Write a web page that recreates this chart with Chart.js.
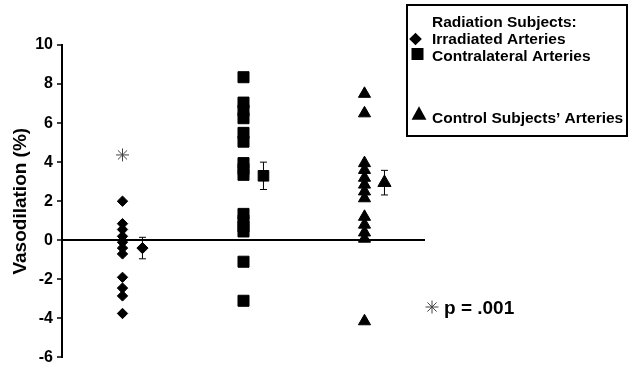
<!DOCTYPE html>
<html>
<head>
<meta charset="utf-8">
<script src="https://cdn.jsdelivr.net/npm/chart.js@4/dist/chart.umd.min.js"></script>
<style>
  html, body { margin: 0; padding: 0; background: #fff; }
  #wrap { width: 630px; height: 371px; position: relative; }
</style>
</head>
<body>
<div id="wrap"><canvas id="vasoChart"></canvas></div>
<script>
// values (% vasodilation)
const groups = ['Irradiated Arteries', 'Contralateral Arteries', 'Control Subjects\u2019 Arteries'];
const legendHeading = 'Radiation Subjects:';
const irradiated = [2.0, 0.85, 0.55, 0.2, -0.1, -0.4, -0.7, -1.9, -2.45, -2.85, -3.75];
const contralateral = [8.35, 7.05, 6.65, 6.25, 5.5, 5.05, 3.95, 3.65, 3.35, 1.35, 1.0, 0.7, 0.45, -1.1, -3.1];
const control = [7.5, 6.5, 3.95, 3.6, 3.2, 2.85, 2.5, 2.15, 1.2, 0.8, 0.4, 0.08, -4.15];
const groupMeans = [-0.4, 3.3, 2.95];
const groupSE = [0.55, 0.7, 0.63];
const significant = [4.37];      // asterisk above irradiated group
const pValueLabel = 'p = .001';
const yTickValues = [-6, -4, -2, 0, 2, 4, 6, 8, 10];

const FONT = 'Arial, "Liberation Sans", sans-serif';
const groupX = i => 1 + i * 2;   // x scale runs 0..6, groups sit at 1,3,5
const meanOffset = 0.33;
const shapes = ['rectRot', 'rect', 'triangle'];
const pointSizes = [5.2, 7.8, 7];
const meanSizes = [5.6, 7.5, 7.6];

function pts(values, i, off) {
    return values.map(v => ({x: groupX(i) + (off || 0), y: v}));
}

const datasets = [irradiated, contralateral, control].map((vals, i) => {
    return {
        label: groups[i],
        data: pts(vals, i),
        pointStyle: shapes[i],
        pointRadius: pointSizes[i],
        backgroundColor: '#000',
        borderColor: '#000',
        borderWidth: 1
    }
});
groupMeans.forEach((m, i) => {
    datasets.push({
        label: groups[i] + ' mean',
        data: [{x: groupX(i) + meanOffset, y: m}],
        pointStyle: shapes[i],
        pointRadius: meanSizes[i],
        backgroundColor: '#000',
        borderColor: '#000',
        borderWidth: 1
    });
});
datasets.push({
    label: 'significance',
    data: pts(significant, 0),
    pointStyle: 'star',
    pointRadius: 6.5,
    borderColor: '#444',
    backgroundColor: '#444',
    borderWidth: 1
});

function marker(ctx, style, x, y, r) {
    ctx.beginPath();
    if (style === 'rectRot') {
        ctx.moveTo(x - r, y); ctx.lineTo(x, y - r); ctx.lineTo(x + r, y); ctx.lineTo(x, y + r);
    } else if (style === 'rect') {
        ctx.rect(x - r, y - r, 2 * r, 2 * r);
    } else {
        ctx.moveTo(x, y - r); ctx.lineTo(x + r * 0.95, y + r * 0.75); ctx.lineTo(x - r * 0.95, y + r * 0.75);
    }
    ctx.closePath();
    ctx.fill();
}

function asterisk(ctx, x, y, r) {
    ctx.beginPath();
    for (let k = 0; k < 4; k++) {
        const a = k * Math.PI / 4;
        ctx.moveTo(x - Math.cos(a) * r, y - Math.sin(a) * r);
        ctx.lineTo(x + Math.cos(a) * r, y + Math.sin(a) * r);
    }
    ctx.stroke();
}

const annotations = {
    id: 'annotations',
    beforeDatasetsDraw(chart) {
        // standard error bars behind the group means
        const ctx = chart.ctx, xs = chart.scales.x, ys = chart.scales.y;
        ctx.save();
        ctx.strokeStyle = '#000';
        ctx.lineWidth = 1;
        groupMeans.forEach((m, i) => {
            const x = xs.getPixelForValue(groupX(i) + meanOffset);
            const top = ys.getPixelForValue(m + groupSE[i]);
            const bot = ys.getPixelForValue(m - groupSE[i]);
            ctx.beginPath();
            ctx.moveTo(x, top); ctx.lineTo(x, bot);
            ctx.moveTo(x - 3.5, top); ctx.lineTo(x + 3.5, top);
            ctx.moveTo(x - 3.5, bot); ctx.lineTo(x + 3.5, bot);
            ctx.stroke();
        });
        ctx.restore();
    },
    afterDraw(chart) {
        const ctx = chart.ctx;
        ctx.save();
        // key box
        ctx.strokeStyle = '#000';
        ctx.lineWidth = 2;
        ctx.strokeRect(407, 5, 220, 131);
        ctx.fillStyle = '#000';
        ctx.font = 'bold 15.5px ' + FONT;
        ctx.textBaseline = 'alphabetic';
        ctx.fillText(legendHeading, 432, 27);
        ctx.fillText(groups[0], 432, 44);
        ctx.fillText(groups[1], 432, 61);
        ctx.fillText(groups[2], 432, 123);
        marker(ctx, 'rectRot', 415.5, 39, 6.3);
        marker(ctx, 'rect', 417.5, 54, 6);
        marker(ctx, 'triangle', 419, 114, 7.8);
        // p value note
        ctx.strokeStyle = '#444';
        ctx.lineWidth = 1;
        asterisk(ctx, 432, 307, 6.5);
        ctx.font = 'bold 19px ' + FONT;
        ctx.fillText(pValueLabel, 444, 314);
        ctx.restore();
    }
};

const config = {
    type: 'scatter',
    data: {datasets: datasets},
    options: {
        responsive: true,
        maintainAspectRatio: false,
        animation: false,
        events: [],
        layout: {padding: {top: 45, bottom: 11, left: 0, right: 205}},
        scales: {
            x: {
                type: 'linear',
                min: 0,
                max: 6,
                display: false
            },
            y: {
                min: -6,
                max: 10,
                afterBuildTicks: function(scale) {
                    scale.ticks = yTickValues.map(v => ({value: v}));
                },
                afterFit: function(scale) {
                    scale.width = 62;
                },
                border: {display: true, color: '#000', width: 2},
                grid: {
                    color: c => (c.tick && c.tick.value === 0) ? '#000' : 'rgba(0,0,0,0)',
                    lineWidth: 2,
                    tickColor: '#000',
                    tickWidth: 1.5,
                    tickLength: 5
                },
                ticks: {
                    color: '#000',
                    padding: 4,
                    font: {family: FONT, size: 16, weight: 'bold'}
                },
                title: {
                    display: true,
                    text: 'Vasodilation (%)',
                    color: '#000',
                    padding: {top: 9, bottom: 0},
                    font: {family: FONT, size: 19, weight: 'bold'}
                }
            }
        },
        plugins: {
            legend: {display: false},
            tooltip: {enabled: false}
        }
    },
    plugins: [annotations]
};

new Chart('vasoChart', config);
</script>
</body>
</html>
